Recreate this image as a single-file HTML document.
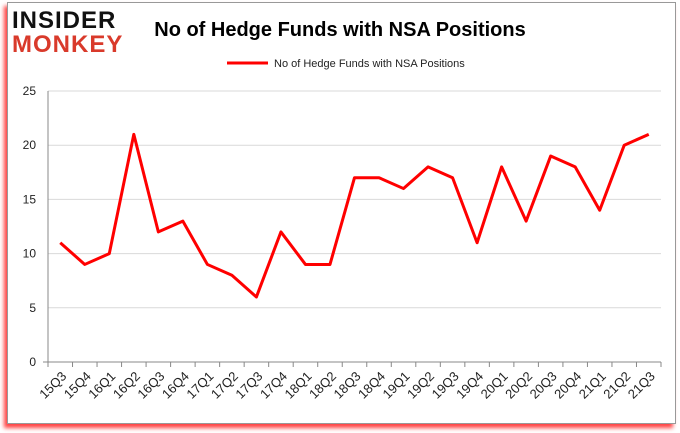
<!DOCTYPE html>
<html><head><meta charset="utf-8"><style>
body{margin:0;width:680px;height:433px;background:#fff;font-family:"Liberation Sans",sans-serif;overflow:hidden;position:relative}
#frame{position:absolute;left:7px;top:2px;width:667px;height:420px;border:1px solid #999;background:#fff;box-shadow:-3px 4px 4px #f44}
</style></head><body>
<div id="frame"></div>
<svg width="680" height="433" style="position:absolute;left:0;top:0">
<text x="12" y="28" font-size="24" font-weight="bold" fill="#111" font-family="Liberation Sans" letter-spacing="1">INSIDER</text>
<text x="12" y="52" font-size="24" font-weight="bold" fill="#d93a2b" font-family="Liberation Sans" letter-spacing="1">MONKEY</text>
<text x="340" y="36" font-size="20" font-weight="bold" fill="#000" text-anchor="middle">No of Hedge Funds with NSA Positions</text>
<line x1="227" y1="63" x2="268" y2="63" stroke="#f00" stroke-width="3"/>
<text x="274" y="67" font-size="11" fill="#222">No of Hedge Funds with NSA Positions</text>
<g id="axes"></g><g id="plot"></g>
</svg>
<script>
const categories=["15Q3","15Q4","16Q1","16Q2","16Q3","16Q4","17Q1","17Q2","17Q3","17Q4","18Q1","18Q2","18Q3","18Q4","19Q1","19Q2","19Q3","19Q4","20Q1","20Q2","20Q3","20Q4","21Q1","21Q2","21Q3"];
const values=[11,9,10,21,12,13,9,8,6,12,9,9,17,17,16,18,17,11,18,13,19,18,14,20,21];
const yTicks=[0,5,10,15,20,25];
const NS="http://www.w3.org/2000/svg";
const L=48,R=661,T=91,B=362;
const step=(R-L)/categories.length;
const x=i=>L+step*(i+0.5);
const y=v=>B-(v/25)*(B-T);
const ax=document.getElementById('axes'),pl=document.getElementById('plot');
function mk(tag,at,parent){const e=document.createElementNS(NS,tag);for(const k in at)e.setAttribute(k,at[k]);parent.appendChild(e);return e;}
yTicks.forEach(t=>{
 if(t>0){const g=mk('line',{x1:L,x2:R,y1:y(t),y2:y(t),stroke:'#d9d9d9'},ax);
 
 }
 const tx=mk('text',{x:L-12,y:y(t)+4,'font-size':12,'text-anchor':'end',fill:'#222'},ax);tx.textContent=t;
 
 
});
const ya=mk('line',{x1:L,x2:L,y1:T,y2:B,stroke:'#888'},ax);


const xa=mk('line',{x1:L-5,x2:R,y1:B,y2:B,stroke:'#888'},ax);


for(let i=0;i<=categories.length;i++){mk('line',{x1:L+step*i,x2:L+step*i,y1:B,y2:B+5,stroke:'#888'},ax);}
categories.forEach((c,i)=>{
 const tx=mk('text',{x:x(i)+7,y:B+15,'font-size':13,'text-anchor':'end',fill:'#222',transform:`rotate(-45 ${x(i)+7} ${B+15})`},ax);tx.textContent=c;
 
 
});
const pts=values.map((v,i)=>x(i)+','+y(v)).join(' ');
const line=mk('polyline',{points:pts,fill:'none',stroke:'#f00','stroke-width':3,'stroke-linejoin':'round'},pl);


</script>
</body></html>
